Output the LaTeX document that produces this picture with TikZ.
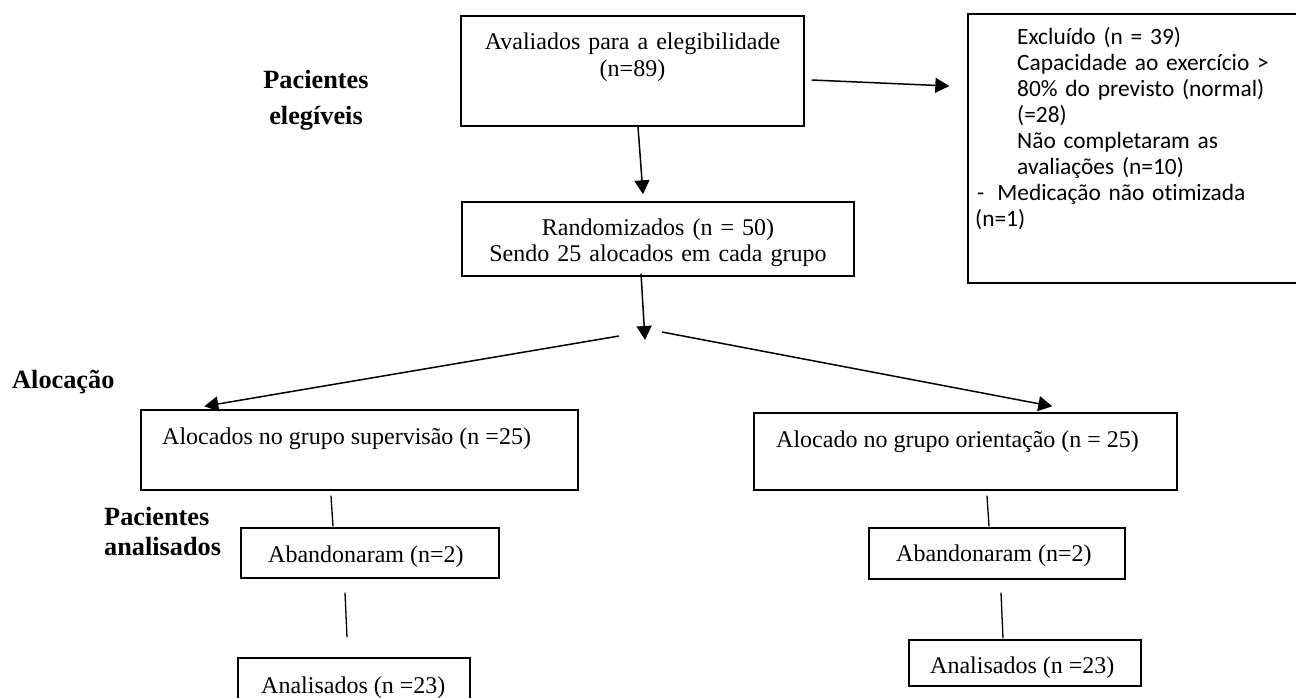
\documentclass[tikz,border=0pt]{standalone}
\usepackage{fontspec}
\setmainfont{Liberation Serif}
\newfontfamily\calfont[Ligatures=NoCommon]{Carlito}
\usetikzlibrary{arrows.meta,calc}
\begin{document}
\begin{tikzpicture}[x=1pt,y=-1pt,
  box/.style={draw,line width=1.4pt,inner sep=0pt},
  txt/.style={inner sep=0pt,font=\fontsize{24}{27}\selectfont},
  lab/.style={inner sep=0pt,font=\fontsize{26.3}{30}\selectfont\bfseries},
  arr/.style={line width=1.5pt,-{Triangle[length=14pt,width=15pt]}},
  ln/.style={line width=1.3pt}]
\useasboundingbox (0,0) rectangle (1296,697);
\clip (0,0) rectangle (1296,697);
% boxes
\node[box,minimum width=343pt,minimum height=110pt] (b1) at (632.5,71) {};
\node[box,minimum width=360pt,minimum height=269pt] (excl) at (1148,148.5) {};
\node[box,minimum width=392pt,minimum height=74pt] (b2) at (658,239) {};
\node[box,minimum width=437pt,minimum height=80pt] (sup) at (359.5,450) {};
\node[box,minimum width=423pt,minimum height=77pt] (ori) at (965.5,451.5) {};
\node[box,minimum width=258pt,minimum height=50pt] (abL) at (370,553) {};
\node[box,minimum width=256pt,minimum height=51pt] (abR) at (997,553.5) {};
\node[box,minimum width=232pt,minimum height=60pt] (anL) at (354,688) {};
\node[box,minimum width=232pt,minimum height=46pt] (anR) at (1025,663) {};
\coordinate (split) at (645,340);
% texts
\node[txt,text width=343pt,align=center,anchor=base] (t1) at (632.5,49) {Avaliados para a elegibilidade\\(n=89)};
\node[txt,text width=392pt,align=center,anchor=base,font=\fontsize{24}{26}\selectfont] (t2) at (658,235) {Randomizados (n = 50)\\Sendo 25 alocados em cada grupo};
\node[txt,anchor=base west] (tsup) at (162,444) {Alocados no grupo supervisão (n =25)};
\node[txt,anchor=base west] (tori) at (776,447) {Alocado no grupo orientação (n = 25)};
\node[txt,anchor=base west] (tabL) at (268,562) {Abandonaram (n=2)};
\node[txt,anchor=base west] (tabR) at (896,561) {Abandonaram (n=2)};
\node[txt,anchor=base west] (tanL) at (261,693) {Analisados (n =23)};
\node[txt,anchor=base west] (tanR) at (930,673) {Analisados (n =23)};
\node[inner sep=0pt,anchor=base west,text width=320pt,align=left,font=\calfont\fontsize{23.4}{26}\selectfont] (texcl) at (975,44) {%
\hspace*{42pt}Excluído (n = 39)\\
\hspace*{42pt}Capacidade ao exercício >\\
\hspace*{42pt}80\% do previsto (normal)\\
\hspace*{42pt}(=28)\\
\hspace*{42pt}Não completaram as\\
\hspace*{42pt}avaliações (n=10)\\
\hspace*{2pt}-\hspace{13pt}Medicação não otimizada\\
(n=1)};
% side labels
\node[lab,text width=160pt,align=center,anchor=base,font=\fontsize{26.3}{36}\selectfont\bfseries] (l1) at (316,88) {Pacientes\\elegíveis};
\node[lab,anchor=base west] (l2) at (12,388) {Alocação};
\node[lab,anchor=base west,align=left] (l3) at (104,555) {Pacientes\\analisados};
% connectors
\draw[arr] ($(b1.east)+(7,9)$) -- ($(excl.west)+(-18,-62.5)$);
\draw[arr] ($(b1.south)+(5.5,0)$) -- ($(b2.north)+(-15,-7)$);
\draw[arr] ($(b2.south)+(-17,-3)$) -- (split);
\draw[arr] ($(split)+(-26,-4)$) -- ($(sup.north west)+(64,-3)$);
\draw[arr] ($(split)+(17,-8)$) -- ($(ori.north west)+(299,-6)$);
\draw[ln] ($(sup.south)+(-28.5,5)$) -- ($(abL.north)+(-37,-1)$);
\draw[ln] ($(abL.south)+(-25,14)$) -- ($(anL.north)+(-7,-20)$);
\draw[ln] ($(ori.south)+(21.5,5)$) -- ($(abR.north)+(-8,-1)$);
\draw[ln] ($(abR.south)+(4,13)$) -- ($(anR.north)+(-22,-1)$);
\end{tikzpicture}
\end{document}
